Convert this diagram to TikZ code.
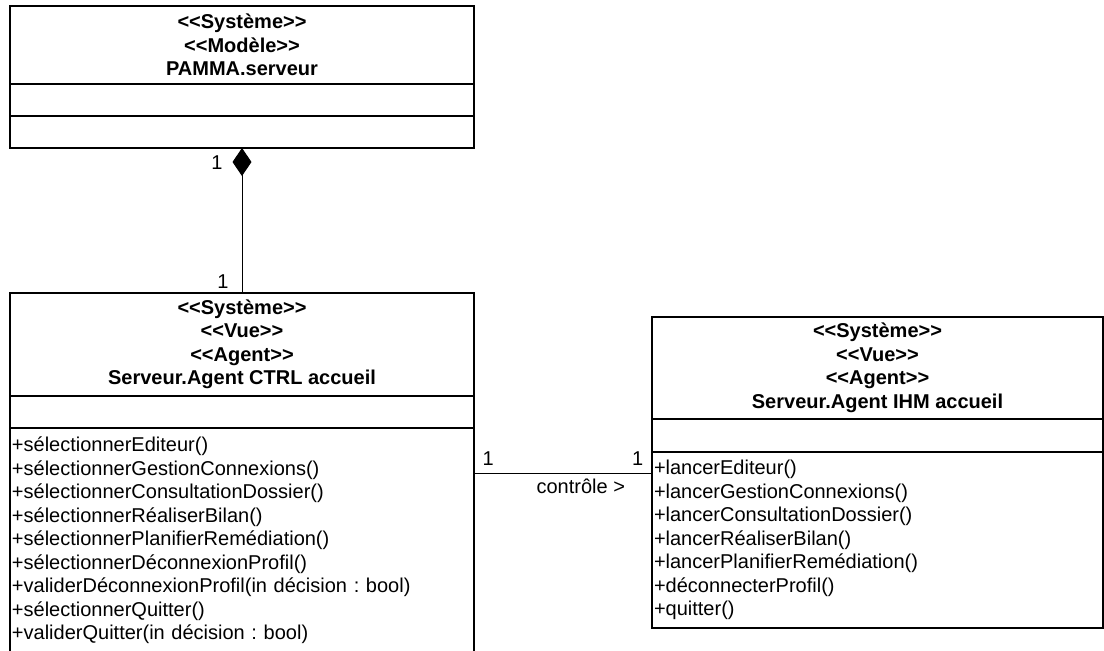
\documentclass[tikz,border=0pt]{standalone}
\usepackage{fontspec}
\setmainfont{Liberation Sans}
\usetikzlibrary{positioning,arrows.meta}
\frenchspacing
\newcommand{\stereo}[1]{<{}<#1>{}>}

\begin{document}
\begin{tikzpicture}[x=1pt,y=-1pt,
  every node/.style={font=\fontsize{20}{23.5}\selectfont},
  classname/.style={draw,line width=1.5pt,outer sep=0pt,inner sep=2pt,align=center,
    font=\bfseries\fontsize{20}{23.5}\selectfont},
  classpart/.style={draw,line width=1.5pt,outer sep=0pt,inner xsep=2pt,inner ysep=3pt,align=left},
  mult/.style={inner sep=2pt}]
  \path[use as bounding box,clip] (0,0) rectangle (1104,651);

  % PAMMA.serveur
  \node (srvName) [classname,anchor=north,minimum width=464pt,minimum height=78pt] at (242,6)
    {\stereo{Système}\\\stereo{Modèle}\\PAMMA.serveur};
  \node (srvAttr) [classpart,minimum width=464pt,minimum height=32pt,below=0pt of srvName] {};
  \node (srvOps)  [classpart,minimum width=464pt,minimum height=32pt,below=0pt of srvAttr] {};

  % Agent CTRL accueil
  \node (ctrlName) [classname,anchor=north,minimum width=464pt,minimum height=103pt] at (242,293)
    {\stereo{Système}\\\stereo{Vue}\\\stereo{Agent}\\Serveur.Agent CTRL accueil};
  \node (ctrlAttr) [classpart,minimum width=464pt,minimum height=32pt,below=0pt of ctrlName] {};
  \node (ctrlOps)  [classpart,text width=460pt,minimum height=225pt,below=0pt of ctrlAttr]
    {+sélectionnerEditeur()\\
     +sélectionnerGestionConnexions()\\
     +sélectionnerConsultationDossier()\\
     +sélectionnerRéaliserBilan()\\
     +sélectionnerPlanifierRemédiation()\\
     +sélectionnerDéconnexionProfil()\\
     +validerDéconnexionProfil(in décision : bool)\\
     +sélectionnerQuitter()\\
     +validerQuitter(in décision : bool)};

  % Agent IHM accueil
  \node (ihmName) [classname,anchor=north,minimum width=451pt,minimum height=102pt] at (877.5,317)
    {\stereo{Système}\\\stereo{Vue}\\\stereo{Agent}\\Serveur.Agent IHM accueil};
  \node (ihmAttr) [classpart,minimum width=451pt,minimum height=33pt,below=0pt of ihmName] {};
  \node (ihmOps)  [classpart,text width=447pt,minimum height=176pt,below=0pt of ihmAttr]
    {+lancerEditeur()\\
     +lancerGestionConnexions()\\
     +lancerConsultationDossier()\\
     +lancerRéaliserBilan()\\
     +lancerPlanifierRemédiation()\\
     +déconnecterProfil()\\
     +quitter()};

  \coordinate (ctrlEnd) at ([yshift=-21pt]ihmOps.north west);

  % composition
  \draw[line width=1pt,-{Diamond[length=28pt,width=19pt]}] (ctrlName) -- (srvOps)
    node[mult,pos=0.90,left=17pt] {1}
    node[mult,pos=0.08,left=11pt] {1};

  % association
  \draw[line width=1pt] (ctrlOps.east |- ctrlEnd) -- (ctrlEnd)
    node[mult,pos=0.08,above=5pt] {1}
    node[mult,pos=0.92,above=5pt] {1}
    node[mult,pos=0.6,below=3pt] {contrôle >};
\end{tikzpicture}
\end{document}
